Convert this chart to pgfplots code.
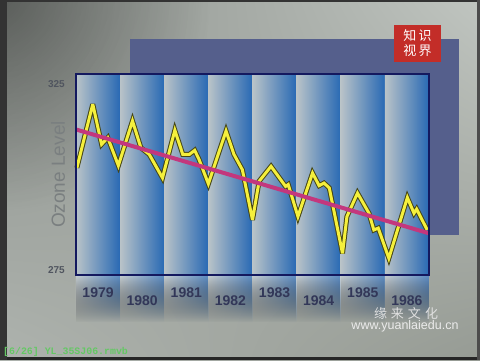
\documentclass[border=0pt]{standalone}
\usepackage{pgfplots}
\pgfplotsset{compat=1.18}
\usepackage{pgfplotstable}
\usetikzlibrary{fadings,shadings}
\usepackage{fontspec}
\setmainfont{Liberation Sans}
\setmonofont{Liberation Mono}
\newfontfamily\cjk{Noto Sans CJK SC}
\tikzfading[name=cornerfade, inner color=transparent!0, outer color=transparent!100]
\tikzfading[name=downfade, top color=transparent!0, bottom color=transparent!100]
\definecolor{bgUL}{RGB}{140,145,140}
\definecolor{bgUR}{RGB}{192,197,192}
\definecolor{bgLL}{RGB}{174,179,174}
\definecolor{bgLR}{RGB}{150,155,148}
\definecolor{shadowblue}{RGB}{85,95,140}
\definecolor{bandL}{RGB}{185,195,200}
\definecolor{bandM}{RGB}{120,158,198}
\definecolor{bandR}{RGB}{40,105,180}
\definecolor{navy}{RGB}{20,25,95}
\definecolor{ozone}{RGB}{245,240,60}
\definecolor{ozoneedge}{RGB}{70,70,20}
\definecolor{trend}{RGB}{195,55,125}
\definecolor{ticklab}{RGB}{80,85,95}
\definecolor{ylab}{RGB}{122,127,128}
\definecolor{yearlab}{RGB}{50,55,88}
\definecolor{logored}{RGB}{195,45,40}
\definecolor{tagGreen}{RGB}{100,200,100}
\pgfplotstableread{
x y
1979.02 302.5
1979.38 319.6
1979.58 308.8
1979.72 310.6
1979.96 303.1
1980.28 315.1
1980.47 307.9
1980.66 306.1
1980.96 299.8
1981.24 312.6
1981.42 306.1
1981.57 306.1
1981.69 307.2
1981.79 304.7
1982.00 298.2
1982.40 312.4
1982.58 306.1
1982.77 302.0
1983.00 288.5
1983.15 298.9
1983.42 302.9
1983.75 297.5
1983.81 298.0
1984.03 289.4
1984.36 301.1
1984.51 297.7
1984.62 298.4
1984.74 297.1
1985.04 279.5
1985.14 289.4
1985.38 295.7
1985.64 290.3
1985.75 285.8
1985.85 286.3
1986.09 278.2
1986.51 294.5
1986.66 290.3
1986.72 291.4
1986.96 285.8
}\ozonedata
\begin{document}
\begin{tikzpicture}[x=1pt,y=1pt]
\useasboundingbox (0,0) rectangle (480,360);
% background
\shade[upper left=bgUL, upper right=bgUR, lower left=bgLL, lower right=bgLR] (0,0) rectangle (480,360);
\begin{scope}
\clip (0,0) rectangle (480,360);
\fill[black, opacity=0.35, path fading=cornerfade] (0,360) circle (210);
\end{scope}
\fill[black!85] (0,0) rectangle (480,3);
\fill[black!80] (0,0) rectangle (7,360);
\fill[black!80] (0,358) rectangle (480,360);
\fill[black!70] (477,0) rectangle (480,360);
% shadow rectangle
\fill[shadowblue] (130,125) rectangle (459,321);
% logo
\fill[logored] (394,298) rectangle (441,335);
\node[text=white, font=\cjk\fontsize{13}{15}\selectfont, align=center, inner sep=0pt] at (417.5,316.5) {知\,识\\视\,界};
\begin{axis}[
  at={(76pt,85pt)}, anchor=south west,
  scale only axis, width=353pt, height=201pt,
  xmin=1979, xmax=1987, ymin=273.7, ymax=327.7,
  clip=false,
  axis line style={navy, line width=2.5pt},
  xtick=\empty,
  ytick={275,325},
  major tick length=0pt,
  yticklabel style={font=\bfseries\fontsize{10}{12}\selectfont, text=ticklab, anchor=east, inner sep=0pt, xshift=-11pt},
  /pgf/number format/assume math mode=true,
  axis on top,
]
\pgfplotsinvokeforeach{1979,...,1986}{
  \fill[left color=bandL, middle color=bandM, right color=bandR] (axis cs:#1,273.7) rectangle (axis cs:#1+1,327.7);
  \fill[left color=bandL!80!white, middle color=bandM!80!white, right color=bandR!75!white, path fading=downfade] (axis cs:#1,273.7) rectangle (axis cs:#1+1,261);
}
\addplot[ozoneedge, line width=5pt, line join=miter, miter limit=4] table[x=x,y=y] {\ozonedata};
\addplot[ozone, line width=3pt, line join=miter, miter limit=4] table[x=x,y=y] {\ozonedata};
\addplot[trend, line width=4pt] coordinates {(1979,312.8) (1987,284.9)};
\node[xshift=-18pt, rotate=90, text=ylab, font=\fontsize{19}{22}\selectfont] at (axis description cs:0,0.5) {Ozone Level};
\foreach \yr/\off in {1979/18,1980/26,1981/18,1982/26,1983/18,1984/26,1985/18,1986/26}{
  \edef\tmp{\noexpand\node[text=yearlab, font=\noexpand\bfseries\noexpand\fontsize{14}{16}\noexpand\selectfont, yshift=-\off pt] at (axis cs:\yr.5,273.7) {\yr};}
  \tmp
}
\end{axis}
% watermarks
\node[text=black!12, font=\cjk\fontsize{13}{15}\selectfont, inner sep=0pt] at (406,46) {缘\hspace{4pt}来\hspace{4pt}文\hspace{4pt}化};
\node[text=white!92!black, font=\fontsize{12.5}{14}\selectfont, inner sep=0pt] at (405,34) {www.yuanlaiedu.cn};
\node[text=tagGreen, font=\ttfamily\bfseries\fontsize{9.9}{11}\selectfont, anchor=west, inner sep=0pt] at (3,8) {[6/26] YL\_35SJ06.rmvb};
\end{tikzpicture}
\end{document}
